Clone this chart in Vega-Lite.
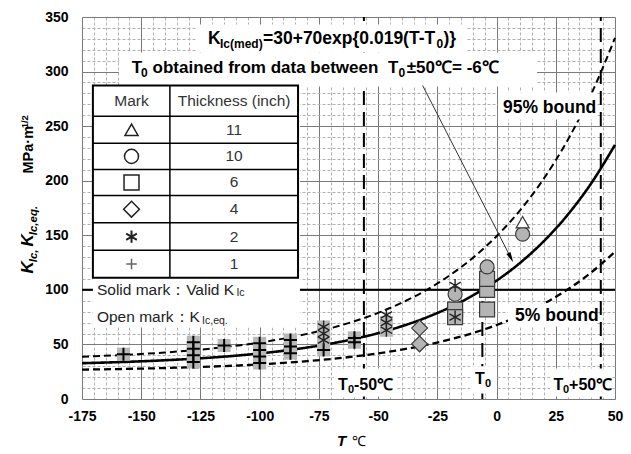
{
  "$schema": "https://vega.github.io/schema/vega-lite/v6.json",
  "width": 533,
  "height": 382,
  "autosize": {"type": "none"},
  "padding": {"left": 82, "top": 17, "right": 16, "bottom": 55},
  "background": "white",
  "config": {"view": {"stroke": null}, "font": "Liberation Sans"},
  "datasets": {
    "curves": [
      {"T": -175, "K": 32.82, "s": "med"}, {"T": -170, "K": 33.10, "s": "med"}, {"T": -160, "K": 33.75, "s": "med"}, {"T": -150, "K": 34.54, "s": "med"}, {"T": -140, "K": 35.49, "s": "med"}, {"T": -130, "K": 36.64, "s": "med"}, {"T": -120, "K": 38.02, "s": "med"}, {"T": -110, "K": 39.70, "s": "med"}, {"T": -100, "K": 41.73, "s": "med"}, {"T": -90, "K": 44.19, "s": "med"}, {"T": -80, "K": 47.16, "s": "med"}, {"T": -70, "K": 50.75, "s": "med"}, {"T": -60, "K": 55.09, "s": "med"}, {"T": -50, "K": 60.34, "s": "med"}, {"T": -40, "K": 66.69, "s": "med"}, {"T": -30, "K": 74.37, "s": "med"}, {"T": -20, "K": 83.65, "s": "med"}, {"T": -10, "K": 94.88, "s": "med"}, {"T": 0, "K": 108.45, "s": "med"}, {"T": 10, "K": 124.87, "s": "med"}, {"T": 20, "K": 144.72, "s": "med"}, {"T": 30, "K": 168.73, "s": "med"}, {"T": 40, "K": 197.75, "s": "med"}, {"T": 50, "K": 232.86, "s": "med"},
      {"T": -175, "K": 26.92, "s": "lo"}, {"T": -170, "K": 27.08, "s": "lo"}, {"T": -160, "K": 27.43, "s": "lo"}, {"T": -150, "K": 27.85, "s": "lo"}, {"T": -140, "K": 28.36, "s": "lo"}, {"T": -130, "K": 28.98, "s": "lo"}, {"T": -120, "K": 29.73, "s": "lo"}, {"T": -110, "K": 30.64, "s": "lo"}, {"T": -100, "K": 31.74, "s": "lo"}, {"T": -90, "K": 33.06, "s": "lo"}, {"T": -80, "K": 34.67, "s": "lo"}, {"T": -70, "K": 36.60, "s": "lo"}, {"T": -60, "K": 38.95, "s": "lo"}, {"T": -50, "K": 41.78, "s": "lo"}, {"T": -40, "K": 45.21, "s": "lo"}, {"T": -30, "K": 49.36, "s": "lo"}, {"T": -20, "K": 54.37, "s": "lo"}, {"T": -10, "K": 60.43, "s": "lo"}, {"T": 0, "K": 67.76, "s": "lo"}, {"T": 10, "K": 76.63, "s": "lo"}, {"T": 20, "K": 87.35, "s": "lo"}, {"T": 30, "K": 100.31, "s": "lo"}, {"T": 40, "K": 115.99, "s": "lo"}, {"T": 50, "K": 134.94, "s": "lo"},
      {"T": -175, "K": 38.72, "s": "hi"}, {"T": -170, "K": 39.13, "s": "hi"}, {"T": -160, "K": 40.08, "s": "hi"}, {"T": -150, "K": 41.23, "s": "hi"}, {"T": -140, "K": 42.61, "s": "hi"}, {"T": -130, "K": 44.29, "s": "hi"}, {"T": -120, "K": 46.32, "s": "hi"}, {"T": -110, "K": 48.77, "s": "hi"}, {"T": -100, "K": 51.73, "s": "hi"}, {"T": -90, "K": 55.32, "s": "hi"}, {"T": -80, "K": 59.65, "s": "hi"}, {"T": -70, "K": 64.89, "s": "hi"}, {"T": -60, "K": 71.23, "s": "hi"}, {"T": -50, "K": 78.90, "s": "hi"}, {"T": -40, "K": 88.17, "s": "hi"}, {"T": -30, "K": 99.38, "s": "hi"}, {"T": -20, "K": 112.93, "s": "hi"}, {"T": -10, "K": 129.32, "s": "hi"}, {"T": 0, "K": 149.14, "s": "hi"}, {"T": 10, "K": 173.11, "s": "hi"}, {"T": 20, "K": 202.09, "s": "hi"}, {"T": 30, "K": 237.14, "s": "hi"}, {"T": 40, "K": 279.52, "s": "hi"}, {"T": 50, "K": 330.77, "s": "hi"}
    ],
    "pts": [
      {"T": -157.5, "K": 41, "m": "1", "v": "solid"},
      {"T": -128, "K": 34, "m": "1", "v": "solid"}, {"T": -128, "K": 40, "m": "1", "v": "solid"}, {"T": -128, "K": 46, "m": "1", "v": "solid"}, {"T": -128, "K": 52, "m": "1", "v": "solid"},
      {"T": -115, "K": 49, "m": "1", "v": "solid"},
      {"T": -100, "K": 33, "m": "1", "v": "solid"}, {"T": -100, "K": 39, "m": "1", "v": "solid"}, {"T": -100, "K": 45, "m": "1", "v": "solid"}, {"T": -100, "K": 51, "m": "1", "v": "solid"},
      {"T": -87, "K": 42, "m": "1", "v": "solid"}, {"T": -87, "K": 48, "m": "1", "v": "solid"}, {"T": -87, "K": 54, "m": "1", "v": "solid"},
      {"T": -73, "K": 45, "m": "1", "v": "solid"},
      {"T": -60, "K": 52, "m": "1", "v": "solid"}, {"T": -60, "K": 56, "m": "1", "v": "solid"},
      {"T": -73, "K": 54, "m": "2", "v": "solid"}, {"T": -73, "K": 60, "m": "2", "v": "solid"}, {"T": -73, "K": 66, "m": "2", "v": "solid"},
      {"T": -46.5, "K": 63, "m": "2", "v": "solid"}, {"T": -46.5, "K": 70, "m": "2", "v": "solid"}, {"T": -46.5, "K": 77, "m": "2", "v": "open"},
      {"T": -32.5, "K": 65, "m": "4", "v": "solid"}, {"T": -32.5, "K": 50.5, "m": "4", "v": "solid"},
      {"T": -17.5, "K": 82, "m": "6", "v": "solid"}, {"T": -17.5, "K": 75, "m": "6", "v": "solid"},
      {"T": -17.5, "K": 75, "m": "2", "v": "solid"}, {"T": -17.5, "K": 104, "m": "2", "v": "open"},
      {"T": -17.5, "K": 96, "m": "10", "v": "solid"},
      {"T": -4, "K": 82, "m": "6", "v": "solid"}, {"T": -4, "K": 100, "m": "6", "v": "solid"}, {"T": -4, "K": 110, "m": "6", "v": "solid"},
      {"T": -4, "K": 121, "m": "10", "v": "solid"},
      {"T": 11, "K": 151, "m": "10", "v": "solid"},
      {"T": 11, "K": 162, "m": "11", "v": "open"}
    ],
    "leg": [
      {"T": -154.1, "K": 246.7, "m": "11"}, {"T": -154.1, "K": 222.3, "m": "10"}, {"T": -154.1, "K": 198.4, "m": "6"}, {"T": -154.1, "K": 173.9, "m": "4"}, {"T": -154.1, "K": 148.7, "m": "2"}, {"T": -154.1, "K": 123.6, "m": "1"}
    ],
    "boxes": [
      {"T": -126.5, "T2": -12.5, "K": 317.5, "K2": 343.1},
      {"T": -159.4, "T2": 17.1, "K": 286.3, "K2": 317.5},
      {"T": -170.4, "T2": -83.0, "K": 65.5, "K2": 287.2},
      {"T": 0.6, "T2": 42.4, "K": 256.1, "K2": 280.8},
      {"T": 4.8, "T2": 42.4, "K": 66.4, "K2": 87.5},
      {"T": -68.6, "T2": -42.0, "K": 2.3, "K2": 27.9},
      {"T": -11.2, "T2": 0.2, "K": 5.0, "K2": 30.0},
      {"T": 22.6, "T2": 48.7, "K": 2.3, "K2": 27.9}
    ],
    "tablelines": [
      {"T": -170.4, "T2": -83.8, "K": 259.1, "K2": 259.1},
      {"T": -170.4, "T2": -83.8, "K": 234.4, "K2": 234.4},
      {"T": -170.4, "T2": -83.8, "K": 210.3, "K2": 210.3},
      {"T": -170.4, "T2": -83.8, "K": 186.5, "K2": 186.5},
      {"T": -170.4, "T2": -83.8, "K": 161.4, "K2": 161.4},
      {"T": -170.4, "T2": -83.8, "K": 136.3, "K2": 136.3},
      {"T": -137.9, "T2": -137.9, "K": 111.1, "K2": 287.2}
    ],
    "tablebox": [{"T": -170.4, "T2": -83.8, "K": 111.1, "K2": 287.2}],
    "tabtext": [
      {"T": -154.1, "K": 273.2, "txt": "Mark"},
      {"T": -110.8, "K": 273.2, "txt": "Thickness (inch)"},
      {"T": -110.8, "K": 246.7, "txt": "11"},
      {"T": -110.8, "K": 222.3, "txt": "10"},
      {"T": -110.8, "K": 198.4, "txt": "6"},
      {"T": -110.8, "K": 173.9, "txt": "4"},
      {"T": -110.8, "K": 148.7, "txt": "2"},
      {"T": -110.8, "K": 123.6, "txt": "1"}
    ],
    "notes": [
      {"T": -168.7, "K": 100.3, "txt": "Solid mark：Valid K"},
      {"T": -168.7, "K": 74.9, "txt": "Open mark：K"}
    ],
    "notesub": [
      {"T": -109.8, "K": 96.9, "txt": "Ic"},
      {"T": -124.3, "K": 71.5, "txt": "Ic,eq."}
    ],
    "big": [
      {"T": -121.8, "K": 325.4, "txt": "K"},
      {"T": -98.6, "K": 325.4, "txt": "=30+70exp{0.019(T-T"},
      {"T": -22.4, "K": 325.4, "txt": ")}"},
      {"T": 2.7, "K": 261.6, "txt": "95% bound"},
      {"T": 7.8, "K": 71.9, "txt": "5% bound"}
    ],
    "big2": [
      {"T": -154.0, "K": 298.5, "txt": "T"},
      {"T": -145.2, "K": 298.5, "txt": "obtained from data between"},
      {"T": -45.8, "K": 298.5, "txt": "T"},
      {"T": -37.9, "K": 298.5, "txt": "±50℃= -6℃"}
    ],
    "bigsub": [
      {"T": -116.75, "K": 321.7, "txt": "Ic(med)"},
      {"T": -25.35, "K": 321.7, "txt": "0"},
      {"T": -150.1, "K": 295.3, "txt": "0"},
      {"T": -41.4, "K": 295.3, "txt": "0"}
    ],
    "t0": [
      {"T": -66.9, "K": 8.7, "txt": "T"},
      {"T": -60.2, "K": 8.7, "txt": "-50℃"},
      {"T": -9.1, "K": 14.2, "txt": "T"},
      {"T": 24.0, "K": 8.7, "txt": "T"},
      {"T": 30.6, "K": 8.7, "txt": "+50℃"}
    ],
    "t0sub": [
      {"T": -62.7, "K": 5.5, "txt": "0"},
      {"T": -4.9, "K": 11.0, "txt": "0"},
      {"T": 28.05, "K": 5.5, "txt": "0"}
    ],
    "axT": [{"T": -67.4, "K": -43.5, "txt": "T"}],
    "axC": [{"T": -61.0, "K": -43.5, "txt": "℃"}],
    "yK": [{"T": -195.7, "K": 115.0, "txt": "K"}, {"T": -195.7, "K": 139.7, "txt": "K"}],
    "ySub": [{"T": -194.0, "K": 125.3, "txt": "Ic,"}, {"T": -194.0, "K": 150.0, "txt": "Ic,eq."}],
    "yUnit": [{"T": -195.7, "K": 206.6, "txt": "MPa·m"}],
    "ySup": [{"T": -197.8, "K": 248.0, "txt": "1/2"}],
    "hline": [{"T": -175, "T2": 50, "K": 100}],
    "vlines": [{"T": -56, "K": 0, "K2": 350}, {"T": 44, "K": 0, "K2": 350}, {"T": -6, "K": 0, "K2": 100}],
    "arrow": [{"T": -31.2, "K": 287.2}, {"T": 6.0, "K": 129.5}],
    "arrowhead": [{"T": 6.0, "K": 129.5}]
  },
  "encoding": {
    "x": {
      "field": "T", "type": "quantitative",
      "scale": {"domain": [-175, 50], "nice": false, "zero": false},
      "axis": {
        "title": null,
        "values": [-175,-170,-165,-160,-155,-150,-145,-140,-135,-130,-125,-120,-115,-110,-105,-100,-95,-90,-85,-80,-75,-70,-65,-60,-55,-50,-45,-40,-35,-30,-25,-20,-15,-10,-5,0,5,10,15,20,25,30,35,40,45,50],
        "labelExpr": "datum.value % 25 === 0 ? '' + datum.value : ''",
        "labelOverlap": false, "labelFlush": false,
        "ticks": false, "domain": false,
        "labelFont": "Liberation Sans", "labelFontWeight": "bold", "labelFontSize": 14, "labelColor": "black", "labelPadding": 10,
        "grid": true,
        "gridColor": {"condition": {"test": "datum.value % 25 === 0", "value": "#7a7a7a"}, "value": "#b0b0b0"},
        "gridDash": {"condition": {"test": "datum.value % 25 === 0", "value": []}, "value": [3, 2]},
        "gridOpacity": 1, "gridWidth": 1
      }
    },
    "y": {
      "field": "K", "type": "quantitative",
      "scale": {"domain": [0, 350], "nice": false, "zero": false},
      "axis": {
        "title": null,
        "values": [0,10,20,30,40,50,60,70,80,90,100,110,120,130,140,150,160,170,180,190,200,210,220,230,240,250,260,270,280,290,300,310,320,330,340,350],
        "labelExpr": "datum.value % 50 === 0 ? '' + datum.value : ''",
        "labelOverlap": false, "labelFlush": false,
        "ticks": false, "domain": false,
        "labelFont": "Liberation Sans", "labelFontWeight": "bold", "labelFontSize": 14, "labelColor": "black", "labelPadding": 14,
        "grid": true,
        "gridColor": {"condition": {"test": "datum.value % 50 === 0", "value": "#7a7a7a"}, "value": "#b0b0b0"},
        "gridDash": {"condition": {"test": "datum.value % 50 === 0", "value": []}, "value": [3, 2]},
        "gridOpacity": 1, "gridWidth": 1
      }
    }
  },
  "layer": [
    {
      "data": {"name": "curves"},
      "mark": {"type": "line", "interpolate": "monotone", "color": "black"},
      "encoding": {
        "strokeDash": {"field": "s", "type": "nominal", "scale": {"domain": ["med", "lo", "hi"], "range": [[1, 0], [7, 4], [7, 4]]}, "legend": null},
        "strokeWidth": {"field": "s", "type": "nominal", "scale": {"domain": ["med", "lo", "hi"], "range": [2.6, 2, 2]}, "legend": null}
      }
    },
    {
      "data": {"name": "hline"},
      "mark": {"type": "rule", "color": "black", "strokeWidth": 2},
      "encoding": {"x2": {"field": "T2"}}
    },
    {
      "data": {"name": "vlines"},
      "mark": {"type": "rule", "color": "black", "strokeWidth": 2, "strokeDash": [14, 7]},
      "encoding": {"y2": {"field": "K2"}}
    },
    {
      "data": {"name": "boxes"},
      "mark": {"type": "rect", "fill": "white", "stroke": null},
      "encoding": {"x2": {"field": "T2"}, "y2": {"field": "K2"}}
    },
    {
      "data": {"name": "pts"},
      "transform": [{"filter": "(datum.m == '1' || datum.m == '2') && datum.v == 'solid'"}],
      "mark": {"type": "point", "shape": "square", "filled": true, "color": "#b8b8b8", "size": 170, "opacity": 1}
    },
    {
      "data": {"name": "pts"},
      "transform": [{"filter": "datum.m == '4' || datum.m == '6' || datum.m == '10' || datum.m == '11'"}],
      "mark": {"type": "point", "filled": true, "stroke": "#3a3a3a", "strokeWidth": 1.2, "opacity": 1},
      "encoding": {
        "shape": {"field": "m", "type": "nominal", "scale": {"domain": ["4", "6", "10", "11"], "range": ["diamond", "square", "circle", "triangle-up"]}, "legend": null},
        "size": {"field": "m", "type": "nominal", "scale": {"domain": ["4", "6", "10", "11"], "range": [250, 170, 160, 170]}, "legend": null},
        "fill": {"field": "v", "type": "nominal", "scale": {"domain": ["solid", "open"], "range": ["#b4b4b4", "white"]}, "legend": null}
      }
    },
    {
      "data": {"name": "pts"},
      "transform": [{"filter": "datum.m == '1'"}],
      "mark": {"type": "point", "shape": "M-1,0H1M0,-1V1", "filled": false, "color": "black", "strokeWidth": 2, "size": 170, "opacity": 1}
    },
    {
      "data": {"name": "pts"},
      "transform": [{"filter": "datum.m == '2'"}],
      "mark": {"type": "point", "shape": "M0,-1V1M-0.87,-0.5L0.87,0.5M-0.87,0.5L0.87,-0.5", "filled": false, "color": "#222222", "strokeWidth": 1.4, "size": 170, "opacity": 1}
    },
    {
      "data": {"name": "arrow"},
      "mark": {"type": "line", "color": "#333333", "strokeWidth": 1}
    },
    {
      "data": {"name": "arrowhead"},
      "mark": {"type": "point", "shape": "M0,1L-0.45,-1L0.45,-1Z", "filled": true, "color": "black", "size": 110, "angle": 333, "opacity": 1}
    },
    {
      "data": {"name": "tablebox"},
      "mark": {"type": "rect", "fill": "white", "stroke": "black", "strokeWidth": 2},
      "encoding": {"x2": {"field": "T2"}, "y2": {"field": "K2"}}
    },
    {
      "data": {"name": "tablelines"},
      "mark": {"type": "rule", "color": "black", "strokeWidth": 1.5},
      "encoding": {"x2": {"field": "T2"}, "y2": {"field": "K2"}}
    },
    {
      "data": {"name": "leg"},
      "transform": [{"filter": "datum.m == '4' || datum.m == '6' || datum.m == '10' || datum.m == '11'"}],
      "mark": {"type": "point", "filled": true, "fill": "white", "stroke": "#222222", "strokeWidth": 1.5, "opacity": 1},
      "encoding": {
        "shape": {"field": "m", "type": "nominal", "legend": null},
        "size": {"field": "m", "type": "nominal", "legend": null}
      }
    },
    {
      "data": {"name": "leg"},
      "transform": [{"filter": "datum.m == '1'"}],
      "mark": {"type": "point", "shape": "M-1,0H1M0,-1V1", "filled": false, "color": "#666666", "strokeWidth": 1.5, "size": 110, "opacity": 1}
    },
    {
      "data": {"name": "leg"},
      "transform": [{"filter": "datum.m == '2'"}],
      "mark": {"type": "point", "shape": "M0,-1V1M-0.87,-0.5L0.87,0.5M-0.87,0.5L0.87,-0.5", "filled": false, "color": "#222222", "strokeWidth": 2, "size": 150, "opacity": 1}
    },
    {
      "data": {"name": "tabtext"},
      "mark": {"type": "text", "font": "Liberation Sans", "fontSize": 15.5, "color": "#333333", "align": "center", "baseline": "middle"},
      "encoding": {"text": {"field": "txt"}}
    },
    {
      "data": {"name": "notes"},
      "mark": {"type": "text", "font": "Liberation Sans", "fontSize": 15.5, "color": "#222222", "align": "left", "baseline": "middle"},
      "encoding": {"text": {"field": "txt"}}
    },
    {
      "data": {"name": "notesub"},
      "mark": {"type": "text", "font": "Liberation Sans", "fontSize": 10.5, "color": "#222222", "align": "left", "baseline": "middle"},
      "encoding": {"text": {"field": "txt"}}
    },
    {
      "data": {"name": "big"},
      "mark": {"type": "text", "font": "Liberation Sans", "fontSize": 17.5, "fontWeight": "bold", "color": "black", "align": "left", "baseline": "alphabetic"},
      "encoding": {"text": {"field": "txt"}}
    },
    {
      "data": {"name": "big2"},
      "mark": {"type": "text", "font": "Liberation Sans", "fontSize": 17, "fontWeight": "bold", "color": "black", "align": "left", "baseline": "alphabetic"},
      "encoding": {"text": {"field": "txt"}}
    },
    {
      "data": {"name": "bigsub"},
      "mark": {"type": "text", "font": "Liberation Sans", "fontSize": 12, "fontWeight": "bold", "color": "black", "align": "left", "baseline": "alphabetic"},
      "encoding": {"text": {"field": "txt"}}
    },
    {
      "data": {"name": "t0"},
      "mark": {"type": "text", "font": "Liberation Sans", "fontSize": 16, "fontWeight": "bold", "color": "black", "align": "left", "baseline": "alphabetic"},
      "encoding": {"text": {"field": "txt"}}
    },
    {
      "data": {"name": "t0sub"},
      "mark": {"type": "text", "font": "Liberation Sans", "fontSize": 11, "fontWeight": "bold", "color": "black", "align": "left", "baseline": "alphabetic"},
      "encoding": {"text": {"field": "txt"}}
    },
    {
      "data": {"name": "axT"},
      "mark": {"type": "text", "font": "Liberation Sans", "fontSize": 15, "fontWeight": "bold", "fontStyle": "italic", "color": "black", "align": "left", "baseline": "alphabetic"},
      "encoding": {"text": {"field": "txt"}}
    },
    {
      "data": {"name": "axC"},
      "mark": {"type": "text", "font": "Liberation Sans", "fontSize": 14, "color": "black", "align": "left", "baseline": "alphabetic"},
      "encoding": {"text": {"field": "txt"}}
    },
    {
      "data": {"name": "yK"},
      "mark": {"type": "text", "font": "Liberation Sans", "fontSize": 17, "fontWeight": "bold", "fontStyle": "italic", "color": "black", "align": "left", "baseline": "alphabetic", "angle": 270},
      "encoding": {"text": {"field": "txt"}}
    },
    {
      "data": {"name": "ySub"},
      "mark": {"type": "text", "font": "Liberation Sans", "fontSize": 11.5, "fontWeight": "bold", "fontStyle": "italic", "color": "black", "align": "left", "baseline": "alphabetic", "angle": 270},
      "encoding": {"text": {"field": "txt"}}
    },
    {
      "data": {"name": "yUnit"},
      "mark": {"type": "text", "font": "Liberation Sans", "fontSize": 14.5, "fontWeight": "bold", "color": "black", "align": "left", "baseline": "alphabetic", "angle": 270},
      "encoding": {"text": {"field": "txt"}}
    },
    {
      "data": {"name": "ySup"},
      "mark": {"type": "text", "font": "Liberation Sans", "fontSize": 9.5, "fontWeight": "bold", "color": "black", "align": "left", "baseline": "alphabetic", "angle": 270},
      "encoding": {"text": {"field": "txt"}}
    },
    {
      "data": {"values": [{}]},
      "mark": {"type": "rect", "fill": null, "fillOpacity": 0, "stroke": "black", "strokeWidth": 3},
      "encoding": {
        "x": {"datum": -175, "type": "quantitative"},
        "x2": {"datum": 50},
        "y": {"datum": 0, "type": "quantitative"},
        "y2": {"datum": 350}
      }
    }
  ]
}
